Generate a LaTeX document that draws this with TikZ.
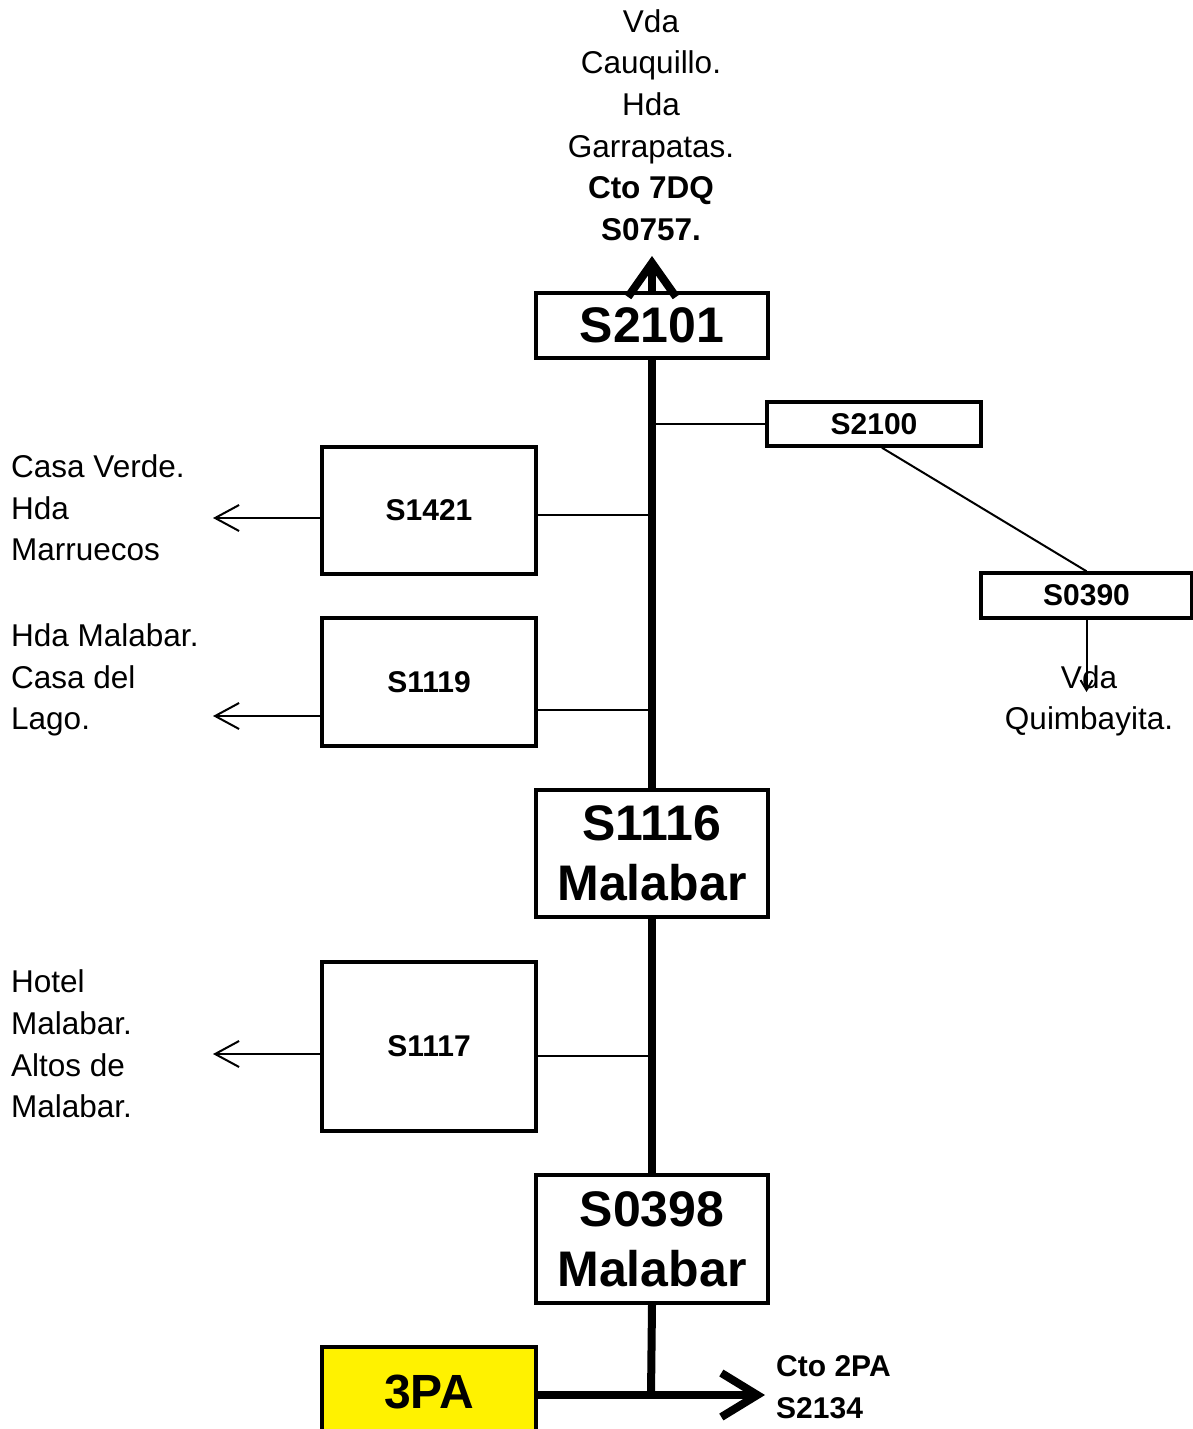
\documentclass[tikz,border=0pt]{standalone}
\usepackage{fontspec}
\setmainfont{Liberation Sans}
\usetikzlibrary{arrows.meta}
\begin{document}
\begin{tikzpicture}[x=1pt,y=-1pt,
  bigbox/.style={draw,line width=3.5pt,inner sep=0pt,minimum width=232pt,align=center,font=\fontsize{50}{60}\bfseries\selectfont},
  smallbox/.style={draw,line width=3.5pt,inner sep=0pt,minimum width=214pt,font=\fontsize{30}{36}\bfseries\selectfont},
  lbl/.style={inner sep=0pt,font=\fontsize{31.5}{41.6}\selectfont},
  mainline/.style={line width=8pt},
  thinline/.style={line width=2pt},
  leftarr/.style={line width=2pt,-{Straight Barb[length=24pt,width=26pt,line width=2pt]}},
]
\useasboundingbox (0,0) rectangle (1193,1429);

% boxes
\node[bigbox,minimum height=65pt] (S2101) at (652,325.5) {S2101};
\node[smallbox,minimum height=44pt] (S2100) at (874,424) {S2100};
\node[smallbox,minimum width=211pt,minimum height=45pt] (S0390) at (1086.5,595.5) {S0390};
\node[smallbox,minimum height=127pt] (S1421) at (429,510.5) {S1421};
\node[smallbox,minimum height=128pt] (S1119) at (429,682) {S1119};
\node[bigbox,minimum height=127pt] (S1116) at (652,853.5) {S1116\\Malabar};
\node[smallbox,minimum height=169pt] (S1117) at (429,1046.5) {S1117};
\node[bigbox,minimum height=128pt] (S0398) at (652,1239) {S0398\\Malabar};
\node[draw,line width=3.5pt,fill=yellow,inner sep=0pt,minimum width=214pt,minimum height=96pt,
      text depth=0pt,font=\fontsize{48}{58}\bfseries\selectfont] (P3PA) at (429,1395) {\raisebox{6pt}{3PA}};

% texts
\node[lbl,align=center] (tTop) at (651,125) {Vda\\Cauquillo.\\Hda\\Garrapatas.\\\textbf{Cto 7DQ}\\\textbf{S0757.}};
\node[lbl,align=left,anchor=west] (tL1) at (11,508) {Casa Verde.\\Hda\\Marruecos};
\node[lbl,align=left,anchor=west] (tL2) at (11,680) {Hda Malabar.\\Casa del\\Lago.};
\node[lbl,align=left,anchor=west] (tL3) at (11,1044) {Hotel\\Malabar.\\Altos de\\Malabar.};
\node[lbl,align=center] (tQ) at (1089,701) {Vda\\Quimbayita.};
\node[lbl,align=left,anchor=west,font=\fontsize{30}{41.5}\bfseries\selectfont] (t2PA) at (776,1387) {Cto 2PA\\S2134};

% coordinates
\coordinate (topTip) at (652,256);
\coordinate (aL1) at (213,518);
\coordinate (aL2) at (213,716);
\coordinate (aL3) at (213,1054);
\coordinate (qTip) at (1086.5,692);
\coordinate (jB) at (651,1395);
\coordinate (bTip) at (765,1395);

% main trunk
\draw[mainline] (S2101.south) -- (S1116.north);
\draw[mainline] (S1116.south) -- (S0398.north);
\draw[mainline] (S0398.south) -- (jB);
\draw[mainline,-{Straight Barb[length=34pt,width=48pt,line width=8pt]}] (S2101.north) -- (topTip);
\draw[mainline,-{Straight Barb[length=36pt,width=44pt,line width=8pt]}] (P3PA.east) -- (bTip);

% branches
\draw[thinline] (S2101.south |- S2100.west) -- (S2100.west);
\draw[thinline] (S2100.south) ++(8,0) -- (S0390.north);
\draw[thinline,-{Straight Barb[length=10pt,width=12pt,line width=2pt]}] (S0390.south) -- (qTip);
\draw[thinline] (S1421.east |- 0,515) -- (S2101.south |- 0,515);
\draw[thinline] (S1119.east |- 0,710) -- (S2101.south |- 0,710);
\draw[thinline] (S1117.east |- 0,1056) -- (S0398.north |- 0,1056);
\draw[leftarr] (S1421.west |- aL1) -- (aL1);
\draw[leftarr] (S1119.west |- aL2) -- (aL2);
\draw[leftarr] (S1117.west |- aL3) -- (aL3);
\end{tikzpicture}
\end{document}
